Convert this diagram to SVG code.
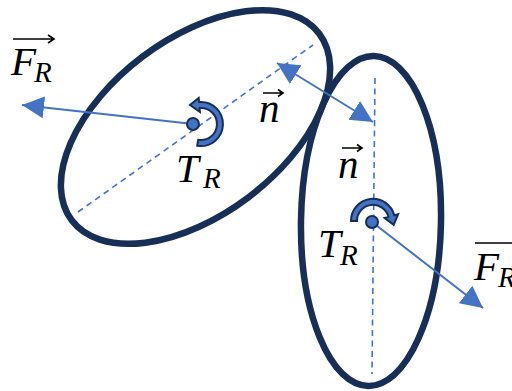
<svg xmlns="http://www.w3.org/2000/svg" width="512" height="391" viewBox="0 0 512 391">
<style>
.body{fill:none;stroke:#172f57;stroke-width:6.5}
.axis{fill:none;stroke:#4472c4;stroke-width:1.6;stroke-dasharray:6 4.5}
.force{fill:none;stroke:#4472c4;stroke-width:2}
.torque{fill:#4472c4;stroke:#172f57;stroke-width:2;stroke-linejoin:miter}
.pin{fill:#4472c4;stroke:#172f57;stroke-width:2}
.lbl{font-family:"Liberation Serif",serif;font-style:italic;fill:#000}
.big{font-size:41px}
.sub{font-size:29px}
.vec{fill:none;stroke:#000;stroke-width:1.6}
</style>
<defs>
<marker id="ah" markerUnits="userSpaceOnUse" markerWidth="24" markerHeight="24" viewBox="0 0 24 24" refX="22" refY="12" orient="auto-start-reverse">
<path d="M0,1 L22,12 L0,23 Z" fill="#4472c4"/>
</marker>
</defs>
<g id="body-left">
<ellipse class="body" cx="195.5" cy="127" rx="155" ry="88" transform="rotate(-37 195.5 127)"/>
<line class="axis" x1="78" y1="212" x2="313" y2="45"/>
</g>
<g id="body-right">
<ellipse class="body" cx="371" cy="221" rx="70" ry="165" transform="rotate(1 371 221)"/>
<line class="axis" x1="375" y1="78" x2="372" y2="374"/>
</g>
<g id="connectors">
<line class="force" x1="193" y1="124" x2="22" y2="105" marker-end="url(#ah)"/>
<line class="force" x1="277" y1="63" x2="373" y2="122" marker-start="url(#ah)" marker-end="url(#ah)"/>
<line class="force" x1="372" y1="222" x2="483" y2="308" marker-end="url(#ah)"/>
</g>
<g id="torque-left">
<path class="torque" d="M197.2,145.7 A22,22 0 1 0 199.1,102.1 L198.7,98 L190,105 L199.9,112 L199.6,108.1 A16,16 0 1 1 198.2,139.8 Z"/>
<circle class="pin" cx="193" cy="124" r="6"/>
</g>
<g id="torque-right">
<path class="torque" d="M351,221 A22,22 0 0 1 394.3,215.3 L398.1,214.3 L393.7,224.8 L384.6,217.9 L388.5,216.9 A16,16 0 0 0 357,221 Z"/>
<circle class="pin" cx="372" cy="222" r="6"/>
</g>
<g id="label-F-left">
<text class="lbl big" x="11" y="75">F</text>
<text class="lbl sub" x="34" y="82">R</text>
<path class="vec" d="M13,39 H54 M48,35 L54,39 L48,43"/>
</g>
<g id="label-T-left">
<text class="lbl big" x="176" y="182">T</text>
<text class="lbl sub" x="203" y="188">R</text>
</g>
<g id="label-n-left">
<text class="lbl big" x="259" y="122">n</text>
<path class="vec" d="M263,93 H283 M278,89.5 L283,93 L278,96.5"/>
</g>
<g id="label-n-right">
<text class="lbl big" x="338" y="178">n</text>
<path class="vec" d="M342,148 H362 M357,144.5 L362,148 L357,151.5"/>
</g>
<g id="label-T-right">
<text class="lbl big" x="318" y="257">T</text>
<text class="lbl sub" x="340" y="265">R</text>
</g>
<g id="label-F-right">
<text class="lbl big" x="474" y="280">F</text>
<text class="lbl sub" x="498" y="287">R</text>
<path class="vec" d="M475,243 H516"/>
</g>
</svg>
